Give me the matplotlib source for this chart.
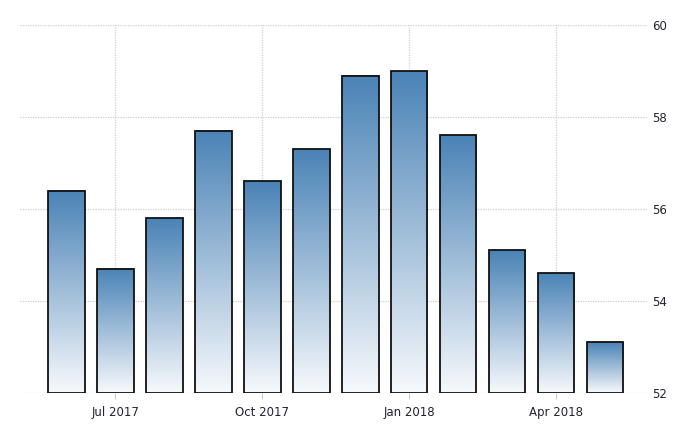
import numpy as np
import matplotlib.pyplot as plt
from matplotlib.colors import LinearSegmentedColormap

# monthly values Jun 2017 - May 2018
months = ["Jun 2017", "Jul 2017", "Aug 2017", "Sep 2017", "Oct 2017", "Nov 2017",
          "Dec 2017", "Jan 2018", "Feb 2018", "Mar 2018", "Apr 2018", "May 2018"]
values = [56.4, 54.7, 55.8, 57.7, 56.6, 57.3, 58.9, 59.0, 57.6, 55.1, 54.6, 53.1]
tick_idx = [1, 4, 7, 10]
tick_labels = ["Jul 2017", "Oct 2017", "Jan 2018", "Apr 2018"]
y_ticks = [52, 54, 56, 58, 60]

fig = plt.figure(figsize=(7, 4.4), dpi=100)
ax = fig.add_axes([20 / 700, 47 / 440, 627 / 700, 368 / 440])

cmap = LinearSegmentedColormap.from_list("grad", ["#f7f9fc", "#4a83b6"])
grad = np.linspace(0, 1, 256).reshape(-1, 1)
width = 0.75
base = 52

x = np.arange(len(values))
for i, v in zip(x, values):
    ax.imshow(grad, extent=[i - width / 2, i + width / 2, base, v], origin="lower",
              aspect="auto", cmap=cmap, zorder=2)
ax.bar(x, np.array(values) - base, bottom=base, width=width, facecolor="none",
       edgecolor="#111111", linewidth=1.3, zorder=3)

ax.set_xlim(-0.95, 11.86)
ax.set_ylim(52, 60)

ax.set_xticks(tick_idx)
ax.set_xticklabels(tick_labels)
ax.set_yticks(y_ticks)
ax.yaxis.tick_right()
ax.tick_params(axis="y", length=0, pad=4, labelsize=8.5, labelcolor="#222233")
ax.tick_params(axis="x", length=4, color="#cccccc", pad=5, labelsize=8.5,
               labelcolor="#222233")

ax.grid(True, linestyle=(0, (1, 1)), color="#cfcfcf", linewidth=0.9, zorder=0)
ax.set_axisbelow(True)
for s in ax.spines.values():
    s.set_visible(False)

fig.savefig("out.png", dpi=100)
